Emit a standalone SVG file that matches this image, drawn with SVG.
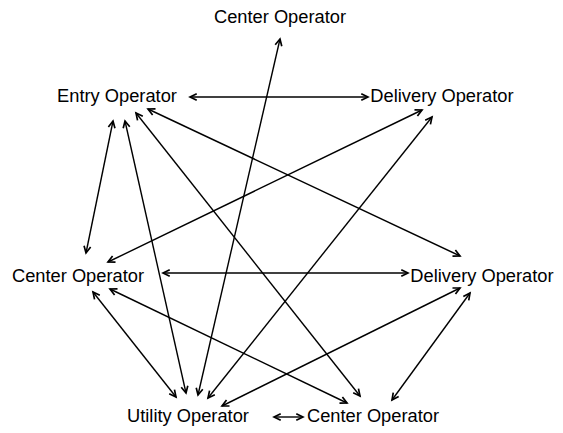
<svg xmlns="http://www.w3.org/2000/svg" width="563" height="433" viewBox="0 0 563 433">
<defs>
<style>
text{font-family:"Liberation Sans",Arial,sans-serif;font-size:18.3px;fill:#000;text-anchor:middle}
line{stroke:#000;stroke-width:1.4;fill:none;marker-start:url(#ah);marker-end:url(#ah)}
</style>
<marker id="ah" markerUnits="userSpaceOnUse" markerWidth="12" markerHeight="12" viewBox="-8 -5 10 10" refX="0" refY="0" orient="auto-start-reverse">
<path d="M-5.6,-2.8 L0,0 L-5.6,2.8" fill="none" stroke="#000" stroke-width="1.4" stroke-linecap="butt" stroke-linejoin="miter"/>
</marker>
</defs>
<rect width="563" height="433" fill="#fff"/>
<g id="connectors">
<line x1="190" y1="97" x2="368" y2="97"/>
<line x1="280" y1="39" x2="198" y2="395"/>
<line x1="113" y1="121" x2="86" y2="253"/>
<line x1="125" y1="121" x2="186" y2="393"/>
<line x1="136" y1="113" x2="360" y2="396"/>
<line x1="148" y1="109" x2="460" y2="256"/>
<line x1="422" y1="110" x2="108" y2="262"/>
<line x1="432" y1="117" x2="208" y2="398"/>
<line x1="163" y1="273" x2="408" y2="273"/>
<line x1="93" y1="292" x2="176" y2="397"/>
<line x1="110" y1="289" x2="347" y2="403"/>
<line x1="460" y1="288" x2="222" y2="406"/>
<line x1="470" y1="293" x2="392" y2="400"/>
<line x1="274" y1="417" x2="303" y2="417"/>
</g>
<g id="node-center-top"><text x="280" y="22.5">Center Operator</text></g>
<g id="node-entry"><text x="117" y="102">Entry Operator</text></g>
<g id="node-delivery-upper"><text x="442" y="102">Delivery Operator</text></g>
<g id="node-center-left"><text x="78" y="282">Center Operator</text></g>
<g id="node-delivery-right"><text x="482" y="282">Delivery Operator</text></g>
<g id="node-utility"><text x="188" y="422">Utility Operator</text></g>
<g id="node-center-bottom"><text x="373" y="422">Center Operator</text></g>
</svg>
